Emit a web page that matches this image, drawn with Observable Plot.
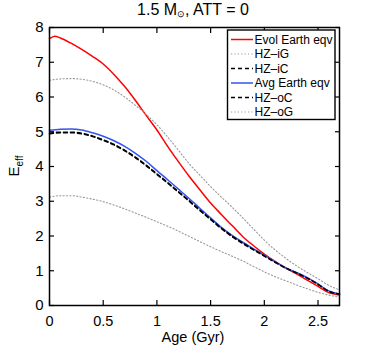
<!DOCTYPE html>
<html><head><meta charset="utf-8">
<script src="https://cdn.jsdelivr.net/npm/d3@7"></script>
<script src="https://cdn.jsdelivr.net/npm/@observablehq/plot@0.6"></script>
<style>
body{margin:0;background:#fff;font-family:Arial,"Liberation Sans",sans-serif;}
#title{width:374px;height:22px;position:relative;}
#title span{position:absolute;left:193px;transform:translateX(-50%);top:1px;font-size:16px;line-height:18px;white-space:nowrap;color:#000;}
#title sub{font-size:9px;vertical-align:-2px;line-height:0;}
#chart svg{display:block;overflow:visible;}
</style></head><body>
<div id="title"><span>1.5 M<sub>⊙</sub>, ATT = 0</span></div>
<div id="chart"></div>
<script>
// Data
const ages = [0,0.1,0.2,0.3,0.4,0.5,0.6,0.7,0.8,0.9,1.0,1.1,1.2,1.3,1.4,1.5,1.6,1.7,1.8,1.9,2.0,2.1,2.2,2.3,2.4,2.5,2.6,2.7];
const evolAges = [0,0.05,0.1,0.2,0.3,0.4,0.5,0.6,0.7,0.8,0.9,1.0,1.1,1.2,1.3,1.4,1.5,1.6,1.7,1.8,1.9,2.0,2.1,2.2,2.3,2.4,2.5,2.6,2.7];
const evolEarth = [7.68,7.75,7.70,7.55,7.37,7.17,6.95,6.65,6.30,5.90,5.47,5.05,4.58,4.14,3.72,3.33,2.95,2.62,2.30,1.98,1.72,1.48,1.27,1.08,0.91,0.73,0.55,0.37,0.30];
const hzIG = [6.48,6.52,6.53,6.51,6.45,6.35,6.20,6.00,5.76,5.50,5.20,4.85,4.47,4.08,3.75,3.42,3.12,2.83,2.52,2.20,1.88,1.60,1.36,1.14,0.95,0.77,0.58,0.45];
const hzIC = [4.94,4.97,4.97,4.94,4.86,4.75,4.62,4.45,4.25,4.02,3.77,3.52,3.26,3.00,2.73,2.47,2.21,1.98,1.78,1.60,1.42,1.24,1.07,0.94,0.79,0.61,0.41,0.33];
const avgEarth = [5.04,5.07,5.08,5.05,4.97,4.87,4.74,4.58,4.38,4.15,3.88,3.62,3.35,3.08,2.80,2.52,2.25,2.02,1.82,1.63,1.45,1.26,1.08,0.95,0.80,0.62,0.42,0.33];
const hzOC = [4.96,4.99,4.99,4.96,4.88,4.77,4.64,4.47,4.27,4.04,3.79,3.54,3.28,3.02,2.75,2.49,2.23,2.00,1.80,1.61,1.43,1.25,1.08,0.94,0.79,0.61,0.41,0.33];
const hzOG = [3.12,3.16,3.16,3.12,3.06,2.99,2.89,2.78,2.66,2.54,2.41,2.28,2.14,1.99,1.84,1.69,1.55,1.42,1.28,1.12,0.97,0.83,0.71,0.59,0.48,0.38,0.30,0.24];
const seriesNames = ["Evol Earth eqv","HZ\u2013iG","HZ\u2013iC","Avg Earth eqv","HZ\u2013oC","HZ\u2013oG"];
const xTicks = [0,0.5,1,1.5,2,2.5];
const yTicks = [0,1,2,3,4,5,6,7,8];

const styles = [
  {stroke:"#ff0000", strokeWidth:1.5, dash:null},
  {stroke:"#9a9a9a", strokeWidth:1.1, dash:"1.2,2.2"},
  {stroke:"#000000", strokeWidth:1.4, dash:"4,3"},
  {stroke:"#3355ee", strokeWidth:1.5, dash:null},
  {stroke:"#000000", strokeWidth:1.4, dash:"4,3"},
  {stroke:"#9a9a9a", strokeWidth:1.1, dash:"1.2,2.2"}
];
const seriesX = [evolAges, ages, ages, ages, ages, ages];
const seriesY = [evolEarth, hzIG, hzIC, avgEarth, hzOC, hzOG];

const lineMarks = seriesNames.map((name, i) => {
  const rows = seriesX[i].map((a, j) => ({age: a, E: seriesY[i][j], series: name}));
  return Plot.line(rows, {x:"age", y:"E", stroke: styles[i].stroke, strokeWidth: styles[i].strokeWidth,
    strokeDasharray: styles[i].dash, curve:"monotone-x"});
});

const font = "Arial, 'Liberation Sans', sans-serif";
const plot = Plot.plot({
  width: 374, height: 326,
  marginTop: 5, marginBottom: 43, marginLeft: 49, marginRight: 35,
  style: {fontFamily: font, fontSize: "15px", background: "white", color: "black", overflow: "visible"},
  x: {domain: [0, 2.7]},
  y: {domain: [0, 8]},
  marks: [
    ...lineMarks,
    Plot.axisX(xTicks, {anchor:"bottom", tickSize:0, tickPadding:10, fontSize:14.5, label:null, tickFormat: d => String(d)}),
    Plot.axisX(xTicks, {anchor:"bottom", tickSize:-5, tickFormat:() => "", label:null, strokeWidth:1.2}),
    Plot.axisX(xTicks, {anchor:"top", tickSize:-5, tickFormat:() => "", label:null, strokeWidth:1.2}),
    Plot.axisY(yTicks, {anchor:"left", tickSize:0, tickPadding:6, fontSize:15, label:null, tickFormat: d => String(d)}),
    Plot.axisY(yTicks, {anchor:"left", tickSize:-5, tickFormat:() => "", label:null, strokeWidth:1.2}),
    Plot.axisY(yTicks, {anchor:"right", tickSize:-5, tickFormat:() => "", label:null, strokeWidth:1.2}),
    Plot.frame({stroke:"black", strokeWidth:1.5})
  ]
});
document.getElementById("chart").appendChild(plot);

const svg = d3.select(plot);
// Axis labels
svg.append("text").attr("x", 193).attr("y", 319.5).attr("text-anchor","middle")
  .attr("font-family", font).attr("font-size", 14.5).attr("fill","black").text("Age (Gyr)");
const yl = svg.append("text").attr("transform","translate(19,144) rotate(-90)").attr("text-anchor","middle")
  .attr("font-family", font).attr("font-size", 15).attr("fill","black");
yl.append("tspan").text("E");
yl.append("tspan").attr("font-size", 10).attr("dy", 4).text("eff");

// Legend
const lg = svg.append("g").attr("font-family", font).attr("font-size", 12).attr("text-anchor", "start");
lg.append("rect").attr("x", 227.5).attr("y", 8).attr("width", 107.5).attr("height", 89.5)
  .attr("fill", "#ffffff").attr("stroke", "#000000").attr("stroke-width", 1.4);
seriesNames.forEach((name, i) => {
  const cy = 17.5 + i * 14.5;
  const ln = lg.append("line").attr("x1", 231).attr("x2", 253).attr("y1", cy).attr("y2", cy)
    .attr("stroke", styles[i].stroke).attr("stroke-width", styles[i].strokeWidth);
  if (styles[i].dash) ln.attr("stroke-dasharray", styles[i].dash);
  lg.append("text").attr("x", 254.5).attr("y", cy).attr("dy","0.35em").attr("fill","#000000")
    .attr("text-anchor", "start").text(name);
});
</script></body></html>
